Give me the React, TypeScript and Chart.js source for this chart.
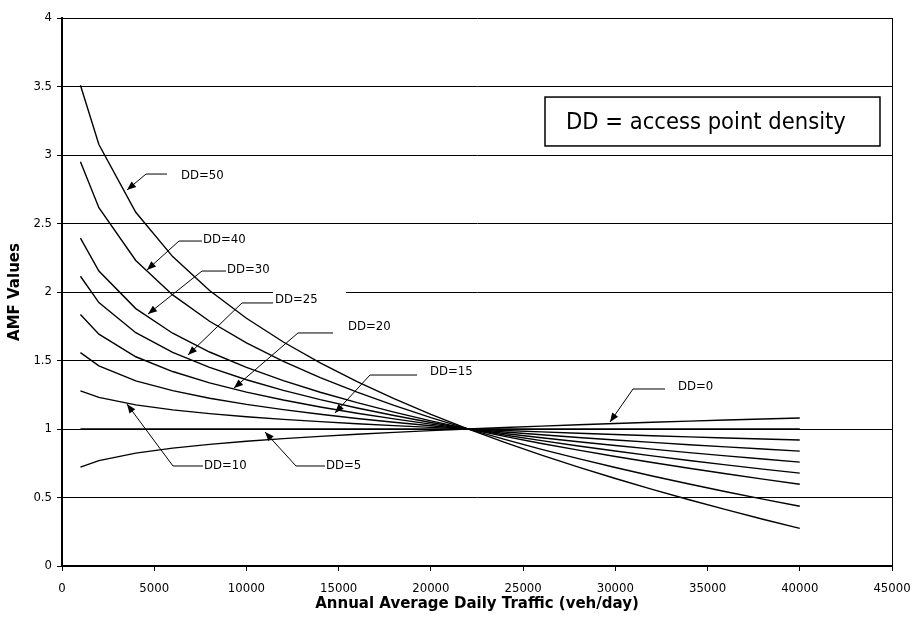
import { useEffect, useRef } from "react";
import { Chart, registerables } from "chart.js";

Chart.register(...registerables);

// Annual average daily traffic (veh/day) at which each AMF curve is tabulated
const traffic = [
  1000, 2000, 4000, 6000, 8000, 10000, 12000, 14000, 16000, 18000, 20000,
  22000, 24000, 26000, 28000, 30000, 32000, 34000, 36000, 38000, 40000,
];

// AMF values per access point density (DD)
const amfDD0 = [
  0.7212, 0.7693, 0.8242, 0.8602, 0.8876, 0.9102, 0.9294, 0.9464, 0.9616, 0.9754, 0.9881,
  0.9998, 1.0108, 1.0212, 1.0309, 1.0402, 1.049, 1.0574, 1.0654, 1.0732, 1.0806,
];
const amfDD5 = [
  1, 1, 1, 1, 1, 1, 1, 1, 1, 1, 1,
  1, 1, 1, 1, 1, 1, 1, 1, 1, 1,
];
const amfDD10 = [
  1.2788, 1.2307, 1.1758, 1.1398, 1.1124, 1.0898, 1.0706, 1.0536, 1.0384, 1.0246, 1.0119,
  1.0002, 0.9892, 0.9788, 0.9691, 0.9598, 0.951, 0.9426, 0.9346, 0.9268, 0.9194,
];
const amfDD15 = [
  1.5576, 1.4614, 1.3515, 1.2797, 1.2248, 1.1797, 1.1411, 1.1072, 1.0768, 1.0492, 1.0238,
  1.0003, 0.9783, 0.9577, 0.9382, 0.9197, 0.9021, 0.8852, 0.8692, 0.8537, 0.8388,
];
const amfDD20 = [
  1.8363, 1.6921, 1.5273, 1.4195, 1.3371, 1.2695, 1.2117, 1.1608, 1.1153, 1.0738, 1.0358,
  1.0005, 0.9675, 0.9365, 0.9072, 0.8795, 0.8531, 0.8279, 0.8037, 0.7805, 0.7582,
];
const amfDD25 = [
  2.1151, 1.9228, 1.7031, 1.5593, 1.4495, 1.3594, 1.2822, 1.2144, 1.1537, 1.0985, 1.0477,
  1.0006, 0.9566, 0.9153, 0.8763, 0.8393, 0.8041, 0.7705, 0.7383, 0.7074, 0.6776,
];
const amfDD30 = [
  2.3939, 2.1535, 1.8788, 1.6992, 1.5619, 1.4492, 1.3528, 1.2681, 1.1921, 1.1231, 1.0596,
  1.0008, 0.9458, 0.8942, 0.8454, 0.7992, 0.7551, 0.7131, 0.6729, 0.6342, 0.5971,
];
const amfDD40 = [
  2.9514, 2.6149, 2.2304, 1.9788, 1.7866, 1.6289, 1.4939, 1.3753, 1.2689, 1.1723, 1.0834,
  1.0011, 0.9241, 0.8518, 0.7835, 0.7188, 0.6572, 0.5983, 0.542, 0.4879, 0.4359,
];
const amfDD50 = [
  3.509, 3.0763, 2.5819, 2.2585, 2.0114, 1.8086, 1.635, 1.4825, 1.3458, 1.2215, 1.1073,
  1.0014, 0.9024, 0.8095, 0.7217, 0.6385, 0.5592, 0.4836, 0.4112, 0.3416, 0.2747,
];

const seriesNames = ["DD=0", "DD=5", "DD=10", "DD=15", "DD=20", "DD=25", "DD=30", "DD=40", "DD=50"];
const seriesValues = [amfDD0, amfDD5, amfDD10, amfDD15, amfDD20, amfDD25, amfDD30, amfDD40, amfDD50];

// Callout leaders in data units: arrow tip -> elbow -> end of the horizontal leader
const calloutText = ["DD=50", "DD=40", "DD=30", "DD=25", "DD=20", "DD=15", "DD=10", "DD=5", "DD=0"];
const calloutTip = [
  [3524, 2.745], [4608, 2.161], [4663, 1.839], [6831, 1.54], [9325, 1.299],
  [14801, 1.117], [3524, 1.182], [11006, 0.978], [29711, 1.051],
];
const calloutElbow = [
  [4554, 2.861], [6343, 2.372], [7590, 2.153], [9759, 1.92], [12795, 1.701],
  [16699, 1.394], [6018, 0.73], [12687, 0.73], [30958, 1.292],
];
const calloutEnd = [
  [5693, 2.861], [7590, 2.372], [8892, 2.153], [11440, 1.92], [14693, 1.701],
  [19247, 1.394], [7645, 0.73], [14259, 0.73], [32693, 1.292],
];
const calloutLabelAt = [
  [6452, 2.85], [7645, 2.38], [8946, 2.16], [11548, 1.945], [15506, 1.745],
  [19952, 1.416], [7699, 0.735], [14313, 0.735], [33398, 1.307],
];
// the DD=25 label sits on an opaque text box spanning this data range
const maskedLabel = "DD=25";
const maskedBox = { x0: 11440, x1: 15398, y0: 1.854, y1: 2.03 };

const noteText = "DD = access point density";
const noteBox = { x0: 26187, x1: 44349, y0: 3.066, y1: 3.423, textX: 27325 };

const xTickValues = [0, 5000, 10000, 15000, 20000, 25000, 30000, 35000, 40000, 45000];
const yTickValues = [0, 0.5, 1, 1.5, 2, 2.5, 3, 3.5, 4];

const FONT = "'DejaVu Sans Condensed', 'DejaVu Sans', sans-serif";
const TITLE_FONT = "'DejaVu Sans', sans-serif";

const calloutPlugin = {
  id: "callouts",
  afterDatasetsDraw(chart: any) {
    const { ctx, scales } = chart;
    const xs = scales.x;
    const ys = scales.y;
    const px = (v: number) => xs.getPixelForValue(v);
    const py = (v: number) => ys.getPixelForValue(v);
    ctx.save();

    // note box
    const bx0 = px(noteBox.x0), bx1 = px(noteBox.x1);
    const by0 = py(noteBox.y1), by1 = py(noteBox.y0);
    ctx.fillStyle = "#fff";
    ctx.fillRect(bx0, by0, bx1 - bx0, by1 - by0);
    ctx.strokeStyle = "#000";
    ctx.lineWidth = 1.5;
    ctx.strokeRect(bx0, by0, bx1 - bx0, by1 - by0);
    ctx.fillStyle = "#000";
    ctx.font = `23.5px ${FONT}`;
    ctx.textAlign = "left";
    ctx.textBaseline = "middle";
    ctx.fillText(noteText, px(noteBox.textX), (by0 + by1) / 2 + 1);

    ctx.font = `13px ${FONT}`;
    calloutText.forEach((label, i) => {
      if (label === maskedLabel) {
        const mx0 = px(maskedBox.x0), mx1 = px(maskedBox.x1);
        const my0 = py(maskedBox.y1), my1 = py(maskedBox.y0);
        ctx.fillStyle = "#fff";
        ctx.fillRect(mx0, my0, mx1 - mx0, my1 - my0);
      }
      const tx = px(calloutTip[i][0]), ty = py(calloutTip[i][1]);
      const ex = px(calloutElbow[i][0]), ey = py(calloutElbow[i][1]);
      const nx = px(calloutEnd[i][0]), ny = py(calloutEnd[i][1]);
      ctx.strokeStyle = "#000";
      ctx.lineWidth = 1;
      ctx.beginPath();
      ctx.moveTo(nx, ny);
      ctx.lineTo(ex, ey);
      ctx.lineTo(tx, ty);
      ctx.stroke();
      // arrow head
      const ang = Math.atan2(ty - ey, tx - ex);
      const len = 9, half = 3.6;
      ctx.fillStyle = "#000";
      ctx.beginPath();
      ctx.moveTo(tx, ty);
      ctx.lineTo(tx - len * Math.cos(ang) + half * Math.sin(ang), ty - len * Math.sin(ang) - half * Math.cos(ang));
      ctx.lineTo(tx - len * Math.cos(ang) - half * Math.sin(ang), ty - len * Math.sin(ang) + half * Math.cos(ang));
      ctx.closePath();
      ctx.fill();
      // label
      ctx.textAlign = "left";
      ctx.textBaseline = "middle";
      ctx.fillText(label, px(calloutLabelAt[i][0]), py(calloutLabelAt[i][1]));
    });
    ctx.restore();
  },
};

export default function App() {
  const canvasRef = useRef<HTMLCanvasElement | null>(null);

  useEffect(() => {
    const canvas = canvasRef.current;
    if (!canvas) return;
    const chart = new Chart(canvas, {
      type: "line",
      data: {
        datasets: seriesValues.map((vals, i) => ({
          label: seriesNames[i],
          data: traffic.map((t, j) => ({ x: t, y: vals[j] })),
          borderColor: "#000",
          borderWidth: 1.4,
          pointRadius: 0,
          fill: false,
          tension: 0,
        })),
      },
      options: {
        animation: false,
        responsive: true,
        maintainAspectRatio: false,
        layout: { padding: { top: 18, right: 20, left: 0, bottom: 0 } },
        plugins: {
          legend: { display: false },
          tooltip: { enabled: false },
        },
        scales: {
          x: {
            type: "linear",
            min: 0,
            max: 45000,
            afterBuildTicks: (scale: any) => {
              scale.ticks = xTickValues.map((v) => ({ value: v }));
            },
            afterFit: (scale: any) => {
              scale.height = 57;
              scale.paddingLeft = 0;
              scale.paddingRight = 0;
            },
            ticks: {
              color: "#000",
              font: { family: FONT, size: 13 },
              padding: 10,
              maxRotation: 0,
              autoSkip: false,
              callback: (v: any) => String(v),
            },
            grid: {
              drawOnChartArea: true,
              color: (c: any) => (c.tick && c.tick.value === 45000 ? "#000" : "rgba(0,0,0,0)"),
              tickColor: "#000",
              tickLength: 5,
              lineWidth: 1,
            },
            border: { color: "#000", width: 2 },
            title: {
              display: true,
              text: "Annual Average Daily Traffic (veh/day)",
              color: "#000",
              font: { family: TITLE_FONT, size: 15, weight: "bold" },
              padding: { top: 0, bottom: 10 },
            },
          },
          y: {
            min: 0,
            max: 4,
            afterBuildTicks: (scale: any) => {
              scale.ticks = yTickValues.map((v) => ({ value: v }));
            },
            afterFit: (scale: any) => {
              scale.width = 62;
              scale.paddingTop = 0;
              scale.paddingBottom = 0;
            },
            ticks: {
              color: "#000",
              font: { family: FONT, size: 13 },
              padding: 5,
              callback: (v: any) => String(v),
            },
            grid: {
              color: "#000",
              tickColor: "#000",
              tickLength: 5,
              lineWidth: 1,
            },
            border: { color: "#000", width: 2 },
            title: {
              display: true,
              text: "AMF Values",
              color: "#000",
              font: { family: TITLE_FONT, size: 15, weight: "bold" },
              padding: { top: 6, bottom: 0 },
            },
          },
        },
      },
      plugins: [calloutPlugin],
    } as any);
    return () => chart.destroy();
  }, []);

  return (
    <div
      style={{
        position: "fixed",
        left: 0,
        top: 0,
        width: 912,
        height: 623,
        background: "#fff",
      }}
    >
      <canvas ref={canvasRef} />
    </div>
  );
}
